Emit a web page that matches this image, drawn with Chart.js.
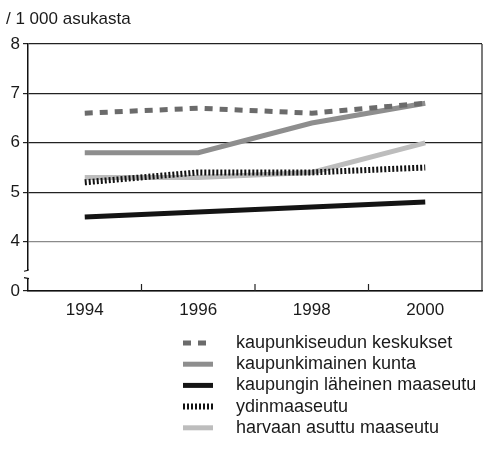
<!DOCTYPE html>
<html>
<head>
<meta charset="utf-8">
<script src="https://cdn.jsdelivr.net/npm/chart.js@4.4.1/dist/chart.umd.min.js"></script>
<style>
  html, body { margin: 0; padding: 0; background: #fff; }
  #wrap { width: 484px; height: 456px; }
</style>
</head>
<body>
<div id="wrap"><canvas id="chart" width="484" height="456"></canvas></div>
<script>
// values per 1 000 inhabitants
const years = ['1994', '1996', '1998', '2000'];
const keskukset = [6.6, 6.7, 6.6, 6.8];
const kaupunkimainen = [5.8, 5.8, 6.4, 6.8];
const laheinen = [4.5, 4.6, 4.7, 4.8];
const ydinmaaseutu = [5.2, 5.4, 5.4, 5.5];
const harvaan = [5.3, 5.3, 5.4, 6.0];
const seriesNames = [
  'kaupunkiseudun keskukset',
  'kaupunkimainen kunta',
  'kaupungin läheinen maaseutu',
  'ydinmaaseutu',
  'harvaan asuttu maaseutu'
];
// y axis is broken: value 3 on the scale is shown as "0"
const yTicks = [3, 4, 5, 6, 7, 8];
const yTickLabels = ['0', '4', '5', '6', '7', '8'];

const FONT = "'Liberation Sans', Arial, sans-serif";

const extras = {
  id: 'extras',
  afterDraw(chart) {
    const ctx = chart.ctx;
    const area = chart.chartArea;
    const x = chart.scales.x;
    const y = chart.scales.y;
    ctx.save();

    // right border
    ctx.strokeStyle = '#222';
    ctx.lineWidth = 1.2;
    ctx.beginPath();
    ctx.moveTo(area.right, area.top);
    ctx.lineTo(area.right, area.bottom);
    ctx.stroke();

    // inner tick marks between the years
    for (let i = 0; i < years.length - 1; i++) {
      const px = (x.getPixelForValue(i) + x.getPixelForValue(i + 1)) / 2;
      ctx.beginPath();
      ctx.moveTo(px, area.bottom - 7);
      ctx.lineTo(px, area.bottom);
      ctx.stroke();
    }

    // axis break
    const lx = area.left;
    const gTop = y.getPixelForValue(3.42);
    const gBot = y.getPixelForValue(3.25);
    ctx.fillStyle = '#fff';
    ctx.fillRect(lx - 2, gTop, 4, gBot - gTop);
    ctx.strokeStyle = '#111';
    ctx.beginPath();
    ctx.moveTo(lx, gTop - 1);
    ctx.lineTo(lx, gTop);
    ctx.lineTo(lx - 4, gTop + 1);
    ctx.moveTo(lx - 4, gBot - 1);
    ctx.lineTo(lx + 1, gBot);
    ctx.stroke();

    // legend
    const lgX = 183, lgLen = 30, txtX = 236;
    let rowY = area.bottom + 52;
    ctx.font = '18px ' + FONT;
    ctx.textBaseline = 'middle';
    chart.data.datasets.forEach(ds => {
      ctx.strokeStyle = ds.borderColor;
      ctx.lineWidth = ds.borderWidth;
      ctx.setLineDash(ds.borderDash || []);
      ctx.beginPath();
      ctx.moveTo(lgX, rowY);
      ctx.lineTo(lgX + lgLen, rowY);
      ctx.stroke();
      ctx.setLineDash([]);
      ctx.fillStyle = '#1a1a1a';
      ctx.fillText(ds.label, txtX, rowY);
      rowY += 21.2;
    });
    ctx.restore();
  }
};

new Chart(document.getElementById('chart'), {
  type: 'line',
  data: {
    labels: years,
    datasets: [
      { label: seriesNames[0], data: keskukset, borderColor: '#6b6b6b', borderWidth: 5, borderDash: [8, 7] },
      { label: seriesNames[1], data: kaupunkimainen, borderColor: '#8e8e8e', borderWidth: 5 },
      { label: seriesNames[2], data: laheinen, borderColor: '#141414', borderWidth: 5 },
      { label: seriesNames[3], data: ydinmaaseutu, borderColor: '#111', borderWidth: 6, borderDash: [2, 2] },
      { label: seriesNames[4], data: harvaan, borderColor: '#bdbdbd', borderWidth: 5 }
    ].map(d => Object.assign({ pointRadius: 0, tension: 0, fill: false, borderCapStyle: 'butt' }, d))
  },
  options: {
    responsive: false,
    animation: false,
    layout: { padding: { left: 6, right: 2, top: 0, bottom: 140 } },
    plugins: {
      legend: { display: false },
      tooltip: { enabled: false },
      title: {
        display: true,
        text: '/ 1 000 asukasta',
        align: 'start',
        color: '#1a1a1a',
        font: { family: FONT, size: 17, weight: 'normal' },
        padding: { top: 9, bottom: 14.6 }
      }
    },
    scales: {
      x: {
        type: 'category',
        offset: true,
        grid: { display: false },
        border: { display: true, color: '#111', width: 1.5 },
        ticks: { color: '#1a1a1a', font: { family: FONT, size: 17 }, padding: 1, maxRotation: 0 },
        afterFit(s) { s.height = 25; }
      },
      y: {
        min: 3,
        max: 8,
        afterBuildTicks(s) { s.ticks = yTicks.map(v => ({ value: v })); },
        ticks: {
          color: '#1a1a1a',
          font: { family: FONT, size: 17 },
          padding: 3,
          callback: (v) => yTickLabels[yTicks.indexOf(v)]
        },
        grid: {
          color: (c) => (c.tick && c.tick.value === 4 ? '#8a8a8a' : '#222'),
          tickColor: '#222',
          tickLength: 5,
          lineWidth: 1.2
        },
        border: { display: true, color: '#111', width: 1.5 },
        afterFit(s) { s.width = 22; }
      }
    }
  },
  plugins: [extras]
});
</script>
</body>
</html>
